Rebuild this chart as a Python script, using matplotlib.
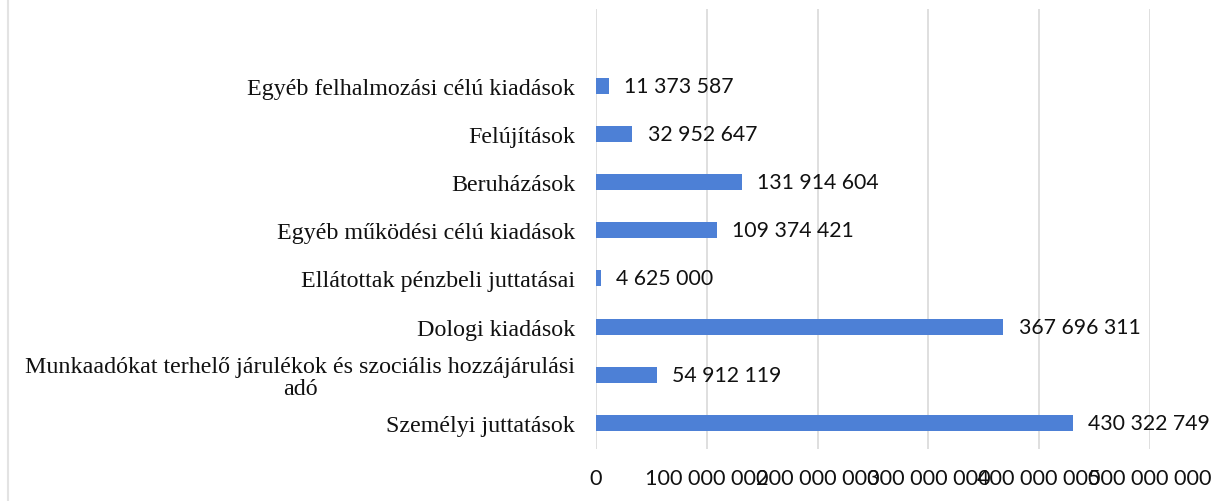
"""Kiadások megoszlása - horizontal bar chart."""

import matplotlib.pyplot as plt
from matplotlib.lines import Line2D
from matplotlib.ticker import FuncFormatter

# data, bottom to top
categories = [
    "Személyi juttatások",
    "Munkaadókat terhelő járulékok és szociális hozzájárulási\nadó",
    "Dologi kiadások",
    "Ellátottak pénzbeli juttatásai",
    "Egyéb működési célú kiadások",
    "Beruházások",
    "Felújítások",
    "Egyéb felhalmozási célú kiadások",
]
values = [430322749, 54912119, 367696311, 4625000,
          109374421, 131914604, 32952647, 11373587]
x_ticks = [0, 100000000, 200000000, 300000000, 400000000, 500000000]

BAR_COLOR = "#4d80d6"
GRID_COLOR = "#d9d9d9"


def fmt_space(v, pos=None):
    return f"{int(v):,}".replace(",", " ")


fig = plt.figure(figsize=(12.27, 5.02), dpi=100)
ax = fig.add_axes([0.4857, 0.1036, 0.4515, 0.8764])

pos = list(range(len(categories)))
ax.barh(pos, values, height=0.33, color=BAR_COLOR, zorder=3)

for p, v in zip(pos, values):
    ax.annotate(fmt_space(v), xy=(v, p), xytext=(11, 0), textcoords="offset points",
                ha="left", va="center", fontsize=15.3, family="Lato", color="#111111")

ax.set_xlim(0, 500000000)
ax.set_ylim(-0.54, 8.59)
ax.set_xticks(x_ticks)
ax.xaxis.set_major_formatter(FuncFormatter(fmt_space))
ax.set_yticks(pos)
ax.set_yticklabels(categories, family="Liberation Serif", fontsize=17.3,
                   multialignment="center", linespacing=1.05, color="#111111")
for lbl in ax.get_xticklabels():
    lbl.set_family("Lato")
    lbl.set_fontsize(15.6)
    lbl.set_color("#111111")

ax.tick_params(axis="x", length=0, pad=14)
ax.tick_params(axis="y", length=0, pad=15)
ax.grid(axis="x", color=GRID_COLOR, linewidth=1.2, zorder=0)
for s in ax.spines.values():
    s.set_visible(False)

# chart border on the left
fig.add_artist(Line2D([8 / 1227, 8 / 1227], [0, 1], color="#e3e3e3", linewidth=1.5))

plt.savefig("out.png", dpi=100)
plt.close()
